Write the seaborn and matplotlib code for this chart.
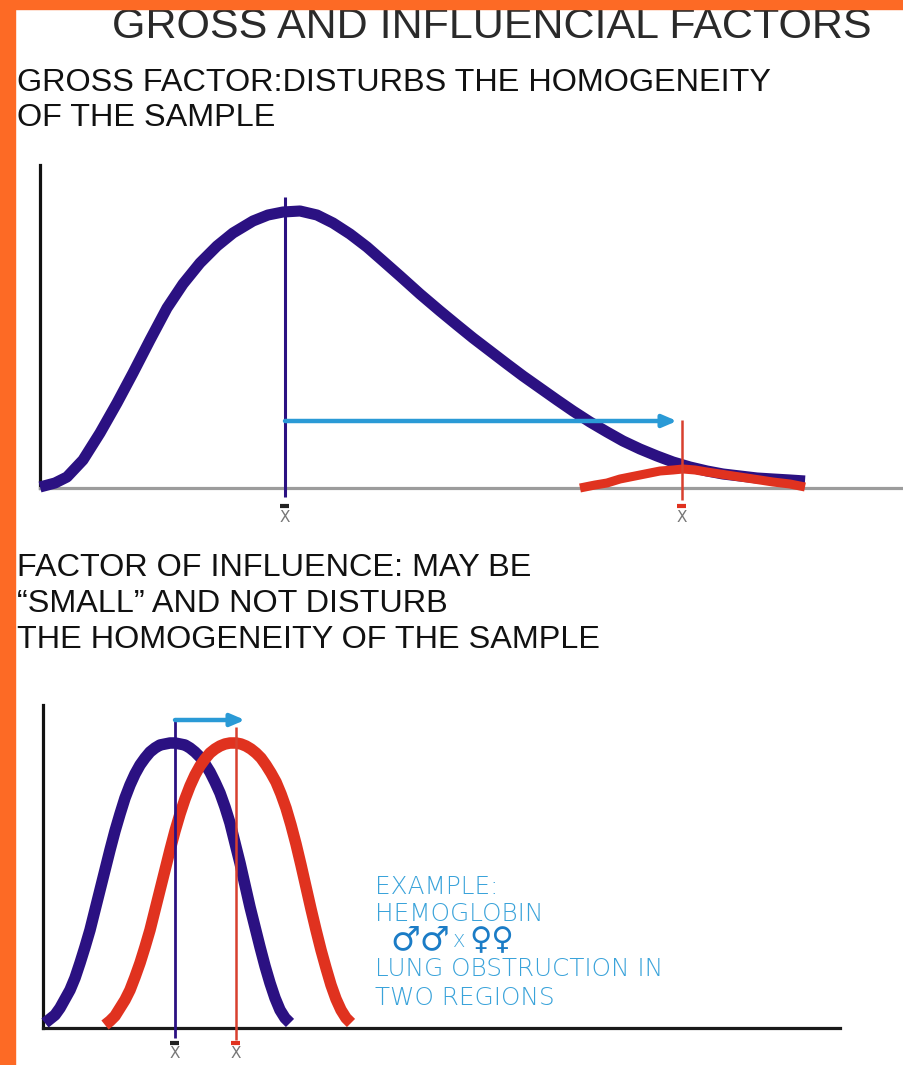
import matplotlib
matplotlib.use('Agg')
import matplotlib.pyplot as plt
from matplotlib.patches import Rectangle
import seaborn as sns

# ---- data (x, y in arbitrary units, 1 unit = 10 px) ----
# upper panel: skewed sample with an outlying group
gross_x = [0.0, 1.5, 2.7, 4.3, 6.0, 7.7, 9.3, 11.0, 12.7, 14.3, 16.0, 17.7, 19.3,
           21.3, 22.8, 24.3, 26.0, 27.7, 29.3, 31.0, 32.7, 34.3, 36.0, 38.0, 40.0,
           41.7, 43.3, 45.0, 46.7, 48.3, 50.0, 51.7, 53.3, 55.0, 56.7, 58.3, 60.0,
           61.7, 63.3, 65.0, 66.7, 68.3, 70.0, 71.7, 73.3, 75.0, 76.5]
gross_y = [0.1, 0.5, 1.1, 2.8, 5.5, 8.5, 11.5, 14.8, 18.0, 20.4, 22.5, 24.2, 25.5,
           26.7, 27.3, 27.6, 27.7, 27.3, 26.5, 25.4, 24.1, 22.7, 21.2, 19.4, 17.7,
           16.3, 15.0, 13.7, 12.4, 11.2, 10.0, 8.8, 7.7, 6.6, 5.6, 4.7, 3.9, 3.2,
           2.6, 2.1, 1.7, 1.4, 1.2, 1.0, 0.9, 0.8, 0.7]
outlier_x = [54.0, 55.5, 56.7, 58.0, 60.0, 62.0, 63.3, 64.3, 65.5, 66.7, 68.0, 70.0,
             72.0, 73.3, 75.0, 76.5]
outlier_y = [0.0, 0.3, 0.5, 0.9, 1.3, 1.7, 1.8, 1.9, 1.8, 1.6, 1.4, 1.1, 0.8, 0.6, 0.4, 0.1]
gross_mean = 24.5
outlier_mean = 64.2

# lower panel: two nearly identical samples, slightly shifted
infl_a_x = [0.2, 0.7, 1.2, 1.7, 2.2, 2.7, 3.2, 3.7, 4.2, 4.7, 5.2, 5.7, 6.2, 6.7,
            7.2, 7.7, 8.2, 8.7, 9.2, 9.7, 10.2, 10.7, 11.2, 11.7, 12.2, 12.7, 13.2,
            13.7, 14.2, 14.7, 15.2, 15.7, 16.2, 16.7, 17.2, 17.7, 18.2, 18.7, 19.2,
            19.7, 20.2, 20.7, 21.2, 21.7, 22.2, 22.7, 23.2, 23.7, 24.2, 24.7]
infl_a_y = [0.5, 0.9, 1.3, 2.0, 2.9, 3.8, 5.0, 6.5, 8.1, 9.8, 11.8, 13.8, 15.8, 17.8,
            19.7, 21.4, 23.0, 24.3, 25.4, 26.3, 27.0, 27.6, 28.0, 28.3, 28.4, 28.5,
            28.5, 28.4, 28.3, 28.0, 27.6, 27.1, 26.4, 25.6, 24.6, 23.5, 22.1, 20.5,
            18.5, 16.5, 14.3, 12.1, 10.1, 8.1, 6.2, 4.5, 3.0, 1.8, 1.0, 0.5]
infl_b_x = [6.2, 6.7, 7.2, 7.7, 8.2, 8.7, 9.2, 9.7, 10.2, 10.7, 11.2, 11.7, 12.2,
            12.7, 13.2, 13.7, 14.2, 14.7, 15.2, 15.7, 16.2, 16.7, 17.2, 17.7, 18.2,
            18.7, 19.3, 19.8, 20.3, 20.8, 21.3, 21.8, 22.3, 22.8, 23.3, 23.8, 24.3,
            24.8, 25.3, 25.8, 26.3, 26.8, 27.3, 27.8, 28.3, 28.8, 29.3, 29.8, 30.3,
            30.8]
infl_b_y = [0.3, 0.7, 1.2, 2.0, 2.8, 3.8, 5.1, 6.5, 8.1, 9.8, 11.8, 13.8, 15.8, 17.8,
            19.7, 21.4, 22.9, 24.2, 25.3, 26.2, 26.9, 27.5, 27.9, 28.2, 28.4, 28.5,
            28.5, 28.4, 28.2, 27.9, 27.5, 27.0, 26.3, 25.5, 24.6, 23.4, 22.0, 20.3,
            18.4, 16.3, 14.1, 11.9, 9.8, 7.8, 6.0, 4.3, 2.9, 1.8, 1.0, 0.5]
infl_a_mean = 13.2
infl_b_mean = 19.3

title = 'GROSS AND INFLUENCIAL FACTORS'
gross_text = ['GROSS FACTOR:DISTURBS THE HOMOGENEITY', 'OF THE SAMPLE']
infl_text = ['FACTOR OF INFLUENCE: MAY BE', '\u201cSMALL\u201d AND NOT DISTURB',
             'THE HOMOGENEITY OF THE SAMPLE']
example_text = ['EXAMPLE:', 'HEMOGLOBIN', 'LUNG OBSTRUCTION IN', 'TWO REGIONS']

# ---- colours ----
NAVY = '#2B1182'
RED = '#E0321F'
THIN_RED = '#D8402E'
SKY = '#2A9AD6'
ORANGE = '#FD6A25'

sns.set_theme(style='white')
plt.rcParams['font.family'] = ['Liberation Sans', 'DejaVu Sans']

W, H = 904, 1065
fig = plt.figure(figsize=(W / 100, H / 100), dpi=100)
fig.patch.set_facecolor('white')


def fx(px):
    return px / W


def fy(py):
    return 1 - py / H


# orange frame on the left and top
fig.patches.append(Rectangle((0, 0), fx(15), 1, transform=fig.transFigure,
                             color=ORANGE, zorder=10))
fig.patches.append(Rectangle((0, fy(9)), 1, 1 - fy(9), transform=fig.transFigure,
                             color=ORANGE, zorder=10))

# ---- texts ----
fig.text(fx(492), fy(27), title, ha='center', va='center', fontsize=31,
         color='#2a2a2a')
for i, line in enumerate(gross_text):
    fig.text(fx(17), fy(83 + 35 * i), line, ha='left', va='center', fontsize=23.3,
             color='#111111')
for i, line in enumerate(infl_text):
    fig.text(fx(17), fy(568 + 36 * i), line, ha='left', va='center', fontsize=23.3,
             color='#111111')

ex_y = [887, 914, 969, 998]
for line, yy in zip(example_text, ex_y):
    fig.text(fx(375), fy(yy), line, ha='left', va='center', fontsize=17.8,
             color='#3AA3DA', fontweight='light', family='DejaVu Sans')
fig.text(fx(390), fy(940), '\u2642\u2642', ha='left', va='center', fontsize=24,
         color='#1B7CC6', fontweight='bold', family='DejaVu Sans')
fig.text(fx(453), fy(942), 'X', ha='left', va='center', fontsize=13,
         color='#3AA3DA', fontweight='light', family='DejaVu Sans')
fig.text(fx(469), fy(941), '\u2640\u2640', ha='left', va='center', fontsize=22,
         color='#1B7CC6', fontweight='bold', family='DejaVu Sans')


def clean(ax, bottom_color):
    ax.set_facecolor('none')
    for s in ['top', 'right']:
        ax.spines[s].set_visible(False)
    ax.spines['left'].set_color('#111111')
    ax.spines['left'].set_linewidth(2.3)
    ax.spines['bottom'].set_color(bottom_color)
    ax.spines['bottom'].set_linewidth(2.3)
    ax.set_xticks([])
    ax.set_yticks([])
    ax.set_xlabel('')
    ax.set_ylabel('')


def mean_label(ax, x, y, bar_color):
    ax.hlines(y + 1.1, x - 0.45, x + 0.45, color=bar_color, lw=3, clip_on=False)
    ax.text(x, y, 'X', ha='center', va='center', fontsize=11, color='#777777',
            family='DejaVu Sans')


curve_kw = dict(solid_capstyle='butt', solid_joinstyle='round', clip_on=False)

# ---- upper panel ----
ax1 = fig.add_axes([fx(40), fy(488), fx(904) - fx(40), fy(165) - fy(488)])
ax1.set_xlim(0, 86.4)
ax1.set_ylim(0, 32.3)
sns.lineplot(x=gross_x, y=gross_y, ax=ax1, color=NAVY, linewidth=8, zorder=3,
             **curve_kw)
ax1.vlines(gross_mean, -0.9, 29.1, color=NAVY, lw=2.2, clip_on=False, zorder=4)
ax1.annotate('', xy=(63.7, 6.7), xytext=(gross_mean, 6.7),
             arrowprops=dict(arrowstyle='-|>,head_length=0.7,head_width=0.3',
                             color=SKY, lw=3.2, shrinkA=0, shrinkB=0), zorder=5)
sns.lineplot(x=outlier_x, y=outlier_y, ax=ax1, color=RED, linewidth=6.5, zorder=5,
             **curve_kw)
ax1.vlines(outlier_mean, -1.2, 6.8, color=THIN_RED, lw=1.8, clip_on=False, zorder=6)
mean_label(ax1, gross_mean, -2.9, '#222222')
mean_label(ax1, outlier_mean, -2.9, RED)
clean(ax1, '#9c9c9c')

# ---- lower panel ----
ax2 = fig.add_axes([fx(43), fy(1028), fx(840) - fx(43), fy(705) - fy(1028)])
ax2.set_xlim(0, 79.7)
ax2.set_ylim(0, 32.3)
sns.lineplot(x=infl_a_x, y=infl_a_y, ax=ax2, color=NAVY, linewidth=8.3, zorder=3,
             **curve_kw)
sns.lineplot(x=infl_b_x, y=infl_b_y, ax=ax2, color=RED, linewidth=8.3, zorder=4,
             **curve_kw)
ax2.vlines(infl_a_mean, -1.0, 30.8, color=NAVY, lw=2.0, clip_on=False, zorder=5)
ax2.vlines(infl_b_mean, -1.2, 30.1, color=THIN_RED, lw=1.8, clip_on=False, zorder=5)
ax2.annotate('', xy=(20.2, 30.8), xytext=(infl_a_mean, 30.8),
             arrowprops=dict(arrowstyle='-|>,head_length=0.7,head_width=0.3',
                             color=SKY, lw=3.2, shrinkA=0, shrinkB=0), zorder=6)
mean_label(ax2, infl_a_mean, -2.6, '#222222')
mean_label(ax2, infl_b_mean, -2.6, RED)
clean(ax2, '#1a1a1a')

fig.savefig('out.png', dpi=100)
